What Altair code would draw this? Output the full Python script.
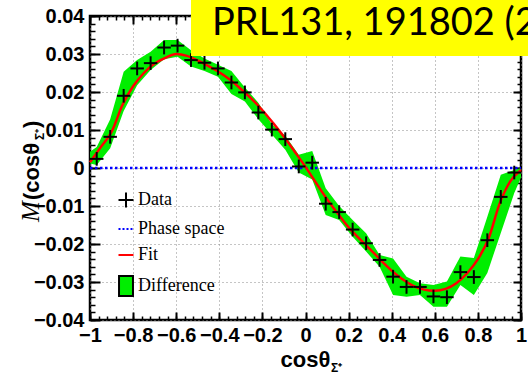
import altair as alt
import pandas as pd

# ---------------- data ----------------
bin_centers = [-0.96875, -0.90625, -0.84375, -0.78125, -0.71875, -0.65625, -0.59375, -0.53125,
               -0.46875, -0.40625, -0.34375, -0.28125, -0.21875, -0.15625, -0.09375, -0.03125,
               0.03125, 0.09375, 0.15625, 0.21875, 0.28125, 0.34375, 0.40625, 0.46875,
               0.53125, 0.59375, 0.65625, 0.71875, 0.78125, 0.84375, 0.90625, 0.96875]
bin_half = 0.03125

data_vals = [0.0024, 0.0082, 0.0190, 0.0262, 0.0276, 0.0317, 0.0322, 0.0284,
             0.0277, 0.0262, 0.0225, 0.0199, 0.0146, 0.0101, 0.0076, 0.0004,
             0.0014, -0.0094, -0.0116, -0.0162, -0.0198, -0.0242, -0.0286, -0.0313,
             -0.0313, -0.0338, -0.0340, -0.0274, -0.0287, -0.0190, -0.0076, -0.0012]
data_errs = [0.0018, 0.0018, 0.0018, 0.0018, 0.0018, 0.0018, 0.0018, 0.0018,
             0.0018, 0.0018, 0.0018, 0.0018, 0.0018, 0.0018, 0.0018, 0.0018,
             0.0018, 0.0018, 0.0018, 0.0018, 0.0018, 0.0018, 0.0018, 0.0018,
             0.0018, 0.0018, 0.0018, 0.0018, 0.0018, 0.0018, 0.0018, 0.0018]

band_x = [-1.0] + bin_centers + [1.0]
band_lo = [0.0012, 0.0008, 0.0052, 0.0150, 0.0218, 0.0258, 0.0286, 0.0293, 0.0267,
           0.0255, 0.0240, 0.0195, 0.0175, 0.0128, 0.0088, 0.0048, -0.0012, -0.0030,
           -0.0124, -0.0137, -0.0181, -0.0220, -0.0260, -0.0334, -0.0339, -0.0334,
           -0.0365, -0.0365, -0.0308, -0.0334, -0.0276, -0.0171, -0.0066, -0.0025]
band_hi = [0.0043, 0.0055, 0.0128, 0.0253, 0.0284, 0.0306, 0.0337, 0.0337, 0.0310,
           0.0288, 0.0272, 0.0255, 0.0212, 0.0172, 0.0115, 0.0085, 0.0035, 0.0045,
           -0.0053, -0.0100, -0.0137, -0.0172, -0.0229, -0.0238, -0.0286, -0.0303,
           -0.0308, -0.0299, -0.0233, -0.0237, -0.0128, -0.0018, -0.0005, 0.0000]

fit_x = [-1.0, -0.95, -0.9, -0.85, -0.8, -0.75, -0.7, -0.65, -0.6, -0.55, -0.5,
         -0.45, -0.4, -0.35, -0.3, -0.25, -0.2, -0.15, -0.1, -0.05, 0.0,
         0.05, 0.1, 0.15, 0.2, 0.25, 0.3, 0.35, 0.4, 0.45, 0.5,
         0.55, 0.6, 0.65, 0.7, 0.75, 0.8, 0.85, 0.9, 0.95, 1.0]
fit_y = [0.0015, 0.0055, 0.0095, 0.0165, 0.0215, 0.0250, 0.0275, 0.0290, 0.0300, 0.0295, 0.0283,
         0.0268, 0.0252, 0.0232, 0.0208, 0.0182, 0.0152, 0.0118, 0.0082, 0.0043, 0.0003,
         -0.0040, -0.0082, -0.0120, -0.0156, -0.0186, -0.0214, -0.0243, -0.0270, -0.0293, -0.0310,
         -0.0320, -0.0323, -0.0318, -0.0303, -0.0277, -0.0240, -0.0185, -0.0095, -0.0035, -0.0005]

ps_x = [-1.0, 1.0]
ps_y = [0.0, 0.0]

legend_labels = ["Data", "Phase space", "Fit", "Difference"]
x_major = [-1, -0.8, -0.6, -0.4, -0.2, 0, 0.2, 0.4, 0.6, 0.8, 1]
y_major = [-0.04, -0.03, -0.02, -0.01, 0, 0.01, 0.02, 0.03, 0.04]
x_minor = [round(-1 + 0.04 * i, 4) for i in range(51)]
y_minor = [round(-0.04 + 0.002 * i, 4) for i in range(41)]

note_text = ["PRL131, 191802 (2023)"]

# ---------------- styling ----------------
GREEN = "#00ee00"
TICKFONT = "Liberation Sans Narrow, Arial Narrow, Liberation Sans, sans-serif"
SANS = "Liberation Sans, Arial, sans-serif"
SERIF = "Liberation Serif, Times New Roman, serif"

xs = alt.Scale(domain=[-1, 1], nice=False, zero=False)
ys = alt.Scale(domain=[-0.04, 0.04], nice=False, zero=False)


def minor_axis(orient, values, size, width=1.5):
    return alt.Axis(orient=orient, values=values, offset=-size, tickSize=size, tickWidth=width,
                    tickColor="black", domain=False, grid=False, labels=False, title=None)


ax_x_bottom = alt.Axis(orient="bottom", values=x_major, offset=-8, tickSize=8, tickWidth=2,
                       tickColor="black", domain=False, grid=True, gridColor="#8a8a8a",
                       gridDash=[1, 3], gridWidth=1, labels=True, labelFont=TICKFONT,
                       labelFontWeight="bold", labelFontSize=20, labelColor="black",
                       labelPadding=5, labelFlush=False, labelOverlap=False, format="~g",
                       title="cosθ", titleFont=TICKFONT, titleFontSize=22, titleFontWeight="bold",
                       titleColor="black", titleX=190, titleY=54, titleAlign="left",
                       titleBaseline="alphabetic", titleAngle=0)
ax_y_left = alt.Axis(orient="left", values=y_major, offset=-10, tickSize=10, tickWidth=2,
                     tickColor="black", domain=False, grid=True, gridColor="#8a8a8a",
                     gridDash=[1, 3], gridWidth=1, labels=True, labelFont=TICKFONT,
                     labelFontWeight="bold", labelFontSize=20, labelColor="black",
                     labelPadding=6, labelFlush=False, labelOverlap=False, format="~g",
                     title=None)
ax_x_top = minor_axis("top", x_major, 8, 2)
ax_y_right = minor_axis("right", y_major, 8, 2)
ax_x_bottom_minor = minor_axis("bottom", x_minor, 4)
ax_x_top_minor = minor_axis("top", x_minor, 4)
ax_y_left_minor = minor_axis("left", y_minor, 5)
ax_y_right_minor = minor_axis("right", y_minor, 4)

band_df = pd.DataFrame({"x": band_x, "lo": band_lo, "hi": band_hi})
fit_df = pd.DataFrame({"x": fit_x, "y": fit_y})
ps_df = pd.DataFrame({"x": ps_x, "y": ps_y})
data_df = pd.DataFrame({"x": bin_centers, "y": data_vals, "e": data_errs})
leg_df = pd.DataFrame({"entry": legend_labels})

band = alt.Chart(band_df).mark_area(color=GREEN, opacity=1).encode(
    x=alt.X("x:Q", scale=xs, axis=ax_x_bottom),
    y=alt.Y("lo:Q", scale=ys, axis=ax_y_left),
    y2="hi:Q",
)

phase = alt.Chart(ps_df).mark_line(color="#0000ff", strokeWidth=2.5, strokeDash=[2.5, 2.5]).encode(
    x=alt.X("x:Q", scale=xs, axis=ax_x_top),
    y=alt.Y("y:Q", scale=ys, axis=ax_y_right),
)

fit = alt.Chart(fit_df).mark_line(color="#ff0000", strokeWidth=2.5, interpolate="monotone").encode(
    x=alt.X("x:Q", scale=xs, axis=ax_x_bottom_minor),
    y=alt.Y("y:Q", scale=ys, axis=ax_y_left_minor),
)

data_h = alt.Chart(data_df).transform_calculate(
    xlo=f"datum.x - {bin_half}", xhi=f"datum.x + {bin_half}"
).mark_rule(color="black", strokeWidth=2).encode(
    x=alt.X("xlo:Q", scale=xs, axis=ax_x_top_minor),
    x2="xhi:Q",
    y=alt.Y("y:Q", scale=ys, axis=ax_y_right_minor),
)

data_v = alt.Chart(data_df).transform_calculate(
    ylo="datum.y - datum.e", yhi="datum.y + datum.e"
).mark_rule(color="black", strokeWidth=2).encode(
    x=alt.X("x:Q", scale=xs, axis=None),
    y=alt.Y("ylo:Q", scale=ys, axis=None),
    y2="yhi:Q",
)

cross_path = "M-1,0L1,0M0,-1L0,1"
rect_path = "M-0.93,-1.33L0.93,-1.33L0.93,1.33L-0.93,1.33Z"
leg = alt.Legend(orient="none", legendX=27, legendY=175, title=None, labelFont=SERIF,
                 labelFontSize=18, labelColor="black", rowPadding=8, symbolSize=225,
                 symbolStrokeWidth=2, labelOffset=3, padding=0, symbolOpacity=1)
legend_layer = alt.Chart(leg_df).transform_filter("false").mark_point(
    opacity=1, strokeWidth=2, size=225
).encode(
    shape=alt.Shape("entry:N", scale=alt.Scale(domain=legend_labels,
                                               range=[cross_path, "stroke", "stroke", rect_path]),
                    legend=leg),
    stroke=alt.Stroke("entry:N", scale=alt.Scale(domain=legend_labels,
                                                 range=["black", "#0000ff", "#ff0000", "black"]),
                      legend=leg),
    fill=alt.Fill("entry:N", scale=alt.Scale(domain=legend_labels,
                                             range=["transparent", "transparent", "transparent", GREEN]),
                  legend=leg),
    strokeDash=alt.StrokeDash("entry:N", scale=alt.Scale(domain=legend_labels,
                                                         range=[[1, 0], [2, 2], [1, 0], [1, 0]]),
                              legend=leg),
)

# axis-title pieces (subscripts / mixed fonts)
def txt(s, x, y, **kw):
    return alt.Chart(pd.DataFrame({"t": [s]})).mark_text(color="black", **kw).encode(
        text="t:N", x=alt.value(x), y=alt.value(y))

xsub = txt("Σ⁺", 241, 356, font=TICKFONT, fontSize=12, fontWeight="bold", align="left",
           baseline="alphabetic")
y_m = txt("M", -51, 206, font=SERIF, fontSize=25, fontStyle="italic", angle=270,
          align="left", baseline="alphabetic")
y_cos = txt("(cosθ", -51, 184, font=SANS, fontSize=22, fontWeight="bold", angle=270,
            align="left", baseline="alphabetic")
y_sub = txt("Σ⁺", -46, 124, font=SANS, fontSize=12, fontWeight="bold", angle=270,
            align="left", baseline="alphabetic")
y_close = txt(")", -51, 112, font=SANS, fontSize=22, fontWeight="bold", angle=270,
              align="left", baseline="alphabetic")

note_box = alt.Chart(pd.DataFrame({"t": note_text})).mark_rect(color="#ffff00").encode(
    x=alt.value(101), x2=alt.value(440), y=alt.value(-16), y2=alt.value(40))
note = alt.Chart(pd.DataFrame({"t": note_text})).mark_text(
    font="Lato, Carlito, sans-serif", fontSize=38, align="left", baseline="alphabetic", color="black"
).encode(text="t:N", x=alt.value(122), y=alt.value(19))

chart = alt.layer(
    band, phase, fit, data_h, data_v, legend_layer,
    xsub, y_m, y_cos, y_sub, y_close, note_box, note
).resolve_axis(x="independent", y="independent").properties(
    width=431, height=304,
    padding={"left": 90, "top": 16, "right": 7, "bottom": 55},
    autosize=alt.AutoSizeParams(type="none"),
    background="white",
).configure_view(stroke="black", strokeWidth=2.5)

chart.save("out.html", embed_options={"renderer": "svg", "actions": False})
